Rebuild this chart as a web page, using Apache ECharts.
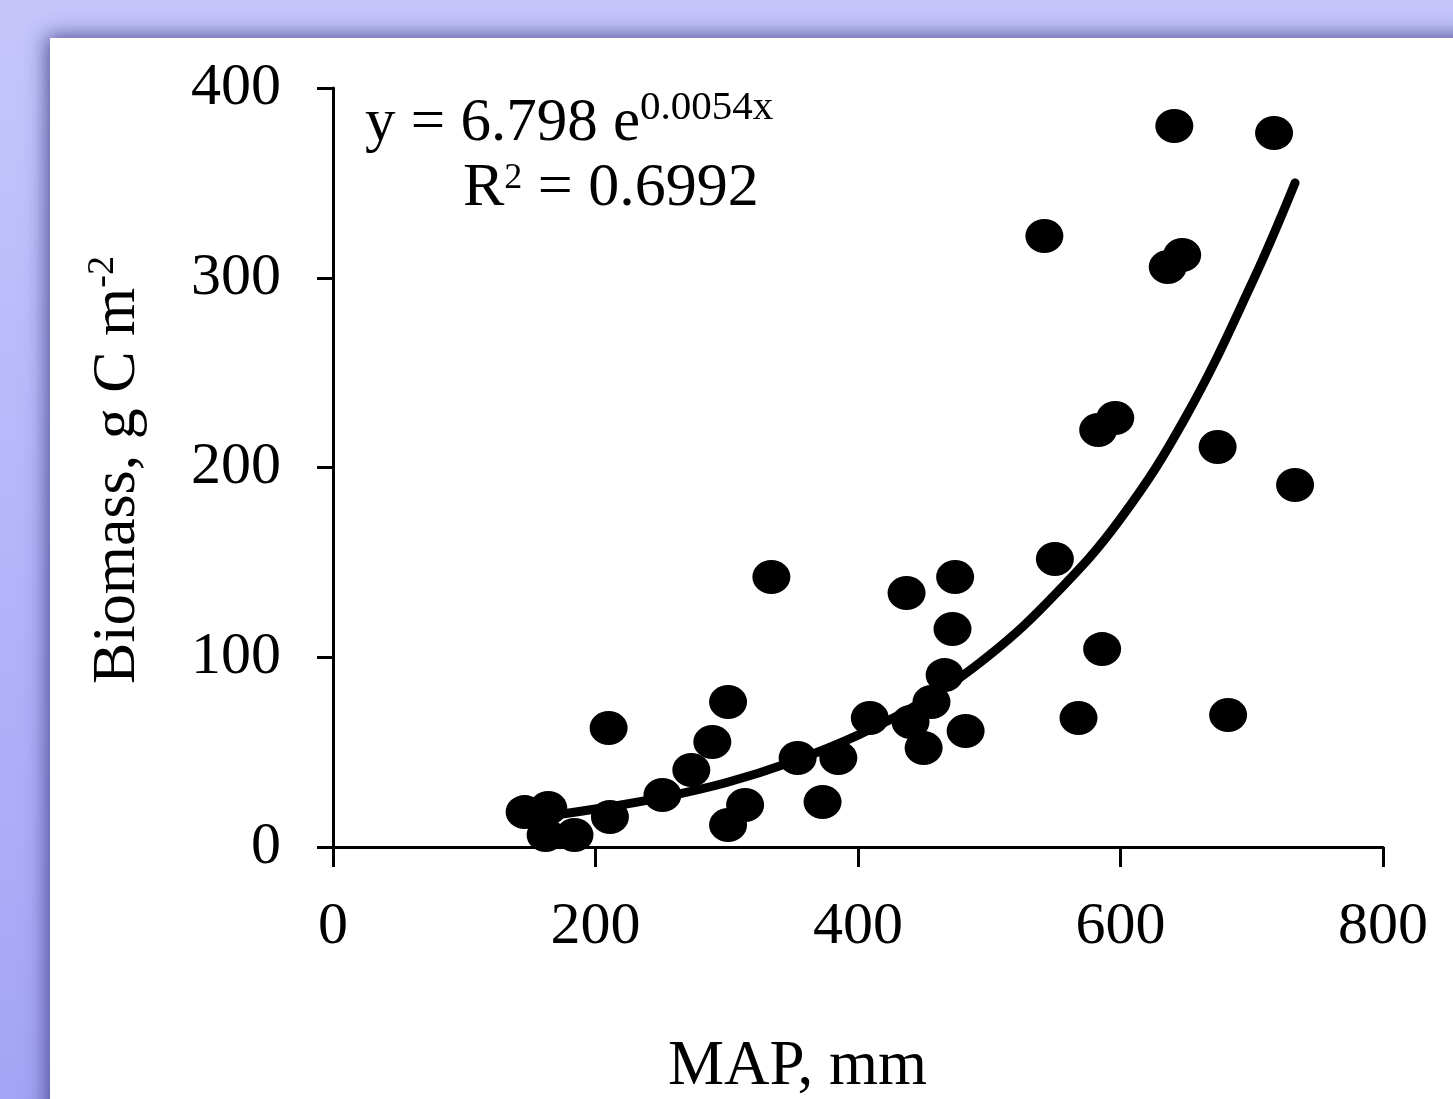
<!DOCTYPE html>
<html>
<head>
<meta charset="utf-8">
<style>
html,body{margin:0;padding:0;width:1453px;height:1099px;overflow:hidden;
background:linear-gradient(to bottom,#c6c6fc 0%,#b6b6fa 45%,#a4a4f6 100%);}
#chart{position:absolute;left:0;top:0;width:1453px;height:1099px;}
</style>
<script src="https://cdn.jsdelivr.net/npm/echarts@6/dist/echarts.min.js"></script>
</head>
<body>
<div id="chart"></div>
<script>
// Observed points: MAP (mm), Biomass (g C m-2)
const mapValues = [146,164,162,184,211,210,251,273,289,301,314,301,354,385,373,409,334,
  437,474,472,466,456,440,450,482,550,586,568,682,
  641,717,542,636,647,583,596,674,733];
const biomassValues = [18.4,20.6,6.3,6.3,15.8,62.7,27.4,40.6,55.3,76.4,22.1,11.6,46.9,46.9,23.7,68.0,142.3,
  133.9,142.3,114.9,90.6,76.4,65.9,52.2,61.1,151.8,104.3,68.0,69.6,
  380.0,376.3,322.0,305.7,312.0,219.8,226.1,210.8,190.8];
// Trend line
const trendX = [150,200,250,300,350,400,450,500,550,600,650,700,733];
const trendY = [15,20,26,34,45,59,77,101,133,173,227,297,350];
const xTicks = [0,200,400,600,800];
const yTicks = [0,100,200,300,400];

const points = mapValues.map((x,i)=>[x,biomassValues[i]]);
const trend = trendX.map((x,i)=>[x,trendY[i]]);
const serif = '"Liberation Serif","DejaVu Serif",serif';

const chart = echarts.init(document.getElementById('chart'));
chart.setOption({
  animation:false,
  backgroundColor:'transparent',
  grid:{left:333,right:70,top:88,bottom:252,containLabel:false},
  xAxis:{type:'value',min:xTicks[0],max:xTicks[xTicks.length-1],interval:200,
    axisLine:{onZero:false,lineStyle:{color:'#000',width:3}},
    axisTick:{show:true,inside:false,length:20,lineStyle:{color:'#000',width:3}},
    axisLabel:{color:'#000',fontFamily:serif,fontSize:60,margin:50,
      formatter:v=>xTicks.includes(v)?String(v):''},
    splitLine:{show:false}},
  yAxis:{type:'value',min:yTicks[0],max:yTicks[yTicks.length-1],interval:100,
    axisLine:{show:true,lineStyle:{color:'#000',width:3}},
    axisTick:{show:true,inside:false,length:16,lineStyle:{color:'#000',width:3}},
    axisLabel:{color:'#000',fontFamily:serif,fontSize:60,margin:52,
      formatter:v=>yTicks.includes(v)?String(v):''},
    splitLine:{show:false}},
  graphic:[
    {type:'rect',z:-10,shape:{x:50,y:38,width:1500,height:1200},
     style:{fill:'#fff',shadowBlur:20,shadowColor:'rgba(50,50,120,0.8)',shadowOffsetX:-3,shadowOffsetY:-2}},
    {type:'text',x:118,y:470,rotation:Math.PI/2,
     style:{text:'{a|Biomass, g C m}{s|-2}',fill:'#000',
       rich:{a:{fontFamily:serif,fontSize:62,fill:'#000'},s:{fontFamily:serif,fontSize:38,fill:'#000',padding:[0,0,30,0]}},
       align:'center',verticalAlign:'middle'}},
    {type:'text',left:668,top:1036,
     style:{text:'MAP, mm',fontFamily:serif,fontSize:63,fill:'#000'}},
    {type:'text',left:365,top:88,
     style:{text:'{a|y = 6.798 e}{s|0.0054x}',fill:'#000',
       rich:{a:{fontFamily:serif,fontSize:61,fill:'#000'},s:{fontFamily:serif,fontSize:41,fill:'#000',padding:[0,0,30,0]}}}},
    {type:'text',left:463,top:158,
     style:{text:'{a|R}{s|2}{a| = 0.6992}',fill:'#000',
       rich:{a:{fontFamily:serif,fontSize:62,fill:'#000'},s:{fontFamily:serif,fontSize:36,fill:'#000',padding:[0,0,20,0]}}}}
  ],
  series:[
    {type:'scatter',data:points,symbol:'circle',symbolSize:[38,34],
     itemStyle:{color:'#000',opacity:1},z:3},
    {type:'line',data:trend,smooth:0.4,showSymbol:false,symbol:'none',
     lineStyle:{color:'#000',width:9,cap:'round'},z:4}
  ]
});
</script>
</body>
</html>
